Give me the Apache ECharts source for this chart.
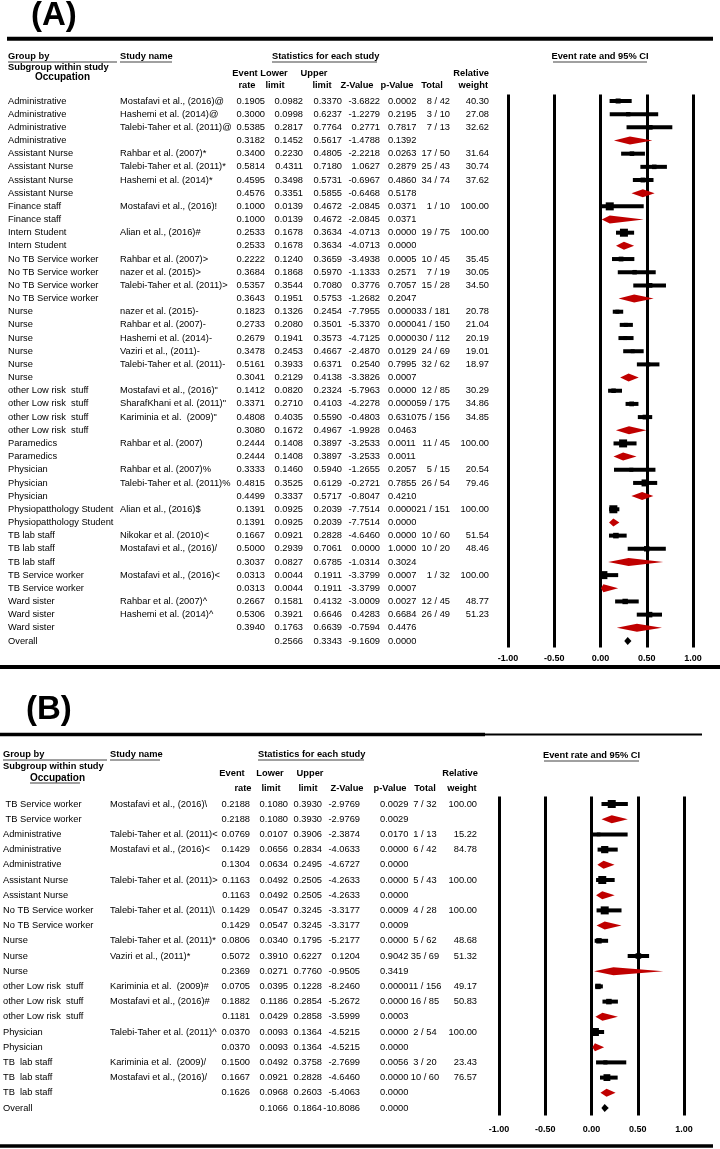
<!DOCTYPE html>
<html><head><meta charset="utf-8">
<script src="https://cdn.jsdelivr.net/npm/echarts@6/dist/echarts.min.js"></script>
<style>html,body{margin:0;padding:0;background:#fff}#c{width:720px;height:1149px}</style>
</head><body><div id="c"></div>
<script>
// ---------------- Panel A data ----------------
const aOccupation = ['Administrative','Administrative','Administrative','Administrative',
 'Assistant Nurse','Assistant Nurse','Assistant Nurse','Assistant Nurse',
 'Finance staff','Finance staff','Intern Student','Intern Student',
 'No TB Service worker','No TB Service worker','No TB Service worker','No TB Service worker',
 'Nurse','Nurse','Nurse','Nurse','Nurse','Nurse',
 'other Low risk  stuff','other Low risk  stuff','other Low risk  stuff','other Low risk  stuff',
 'Paramedics','Paramedics','Physician','Physician','Physician',
 'Physiopatthology Student','Physiopatthology Student',
 'TB lab staff','TB lab staff','TB lab staff','TB Service worker','TB Service worker',
 'Ward sister','Ward sister','Ward sister','Overall'];
const aStudy = ['Mostafavi et al., (2016)@','Hashemi et al. (2014)@','Talebi-Taher et al. (2011)@','',
 'Rahbar et al. (2007)*','Talebi-Taher et al. (2011)*','Hashemi et al. (2014)*','',
 'Mostafavi et al., (2016)!','','Alian et al., (2016)#','',
 'Rahbar et al. (2007)>','nazer et al. (2015)>','Talebi-Taher et al. (2011)>','',
 'nazer et al. (2015)-','Rahbar et al. (2007)-','Hashemi et al. (2014)-','Vaziri et al., (2011)-','Talebi-Taher et al. (2011)-','',
 'Mostafavi et al., (2016)"','SharafKhani et al. (2011)"','Kariminia et al.  (2009)"','',
 'Rahbar et al. (2007)','','Rahbar et al. (2007)%','Talebi-Taher et al. (2011)%','',
 'Alian et al., (2016)$','',
 'Nikokar et al. (2010)<','Mostafavi et al., (2016)/','','Mostafavi et al., (2016)<','',
 'Rahbar et al. (2007)^','Hashemi et al. (2014)^','',''];
const aRate = [0.1905,0.3000,0.5385,0.3182, 0.3400,0.5814,0.4595,0.4576, 0.1000,0.1000, 0.2533,0.2533,
 0.2222,0.3684,0.5357,0.3643, 0.1823,0.2733,0.2679,0.3478,0.5161,0.3041, 0.1412,0.3371,0.4808,0.3080,
 0.2444,0.2444, 0.3333,0.4815,0.4499, 0.1391,0.1391, 0.1667,0.5000,0.3037, 0.0313,0.0313,
 0.2667,0.5306,0.3940, 0.2938];
const aLower = [0.0982,0.0998,0.2817,0.1452, 0.2230,0.4311,0.3498,0.3351, 0.0139,0.0139, 0.1678,0.1678,
 0.1240,0.1868,0.3544,0.1951, 0.1326,0.2080,0.1941,0.2453,0.3933,0.2129, 0.0820,0.2710,0.4035,0.1672,
 0.1408,0.1408, 0.1460,0.3525,0.3337, 0.0925,0.0925, 0.0921,0.2939,0.0827, 0.0044,0.0044,
 0.1581,0.3921,0.1763, 0.2566];
const aUpper = [0.3370,0.6237,0.7764,0.5617, 0.4805,0.7180,0.5731,0.5855, 0.4672,0.4672, 0.3634,0.3634,
 0.3659,0.5970,0.7080,0.5753, 0.2454,0.3501,0.3573,0.4667,0.6371,0.4138, 0.2324,0.4103,0.5590,0.4967,
 0.3897,0.3897, 0.5940,0.6129,0.5717, 0.2039,0.2039, 0.2828,0.7061,0.6785, 0.1911,0.1911,
 0.4132,0.6646,0.6639, 0.3343];
const aZ = [-3.6822,-1.2279,0.2771,-1.4788, -2.2218,1.0627,-0.6967,-0.6468, -2.0845,-2.0845, -4.0713,-4.0713,
 -3.4938,-1.1333,0.3776,-1.2682, -7.7955,-5.3370,-4.7125,-2.4870,0.2540,-3.3826, -5.7963,-4.2278,-0.4803,-1.9928,
 -3.2533,-3.2533, -1.2655,-0.2721,-0.8047, -7.7514,-7.7514, -4.6460,0.0000,-1.0314, -3.3799,-3.3799,
 -3.0009,0.4283,-0.7594, -9.1609];
const aP = [0.0002,0.2195,0.7817,0.1392, 0.0263,0.2879,0.4860,0.5178, 0.0371,0.0371, 0.0000,0.0000,
 0.0005,0.2571,0.7057,0.2047, 0.0000,0.0000,0.0000,0.0129,0.7995,0.0007, 0.0000,0.0000,0.6310,0.0463,
 0.0011,0.0011, 0.2057,0.7855,0.4210, 0.0000,0.0000, 0.0000,1.0000,0.3024, 0.0007,0.0007,
 0.0027,0.6684,0.4476, 0.0000];
const aTotal = ['8 / 42','3 / 10','7 / 13','', '17 / 50','25 / 43','34 / 74','', '1 / 10','', '19 / 75','',
 '10 / 45','7 / 19','15 / 28','', '33 / 181','41 / 150','30 / 112','24 / 69','32 / 62','',
 '12 / 85','59 / 175','75 / 156','', '11 / 45','', '5 / 15','26 / 54','', '21 / 151','',
 '10 / 60','10 / 20','', '1 / 32','', '12 / 45','26 / 49','', ''];
const aWeight = [40.30,27.08,32.62,null, 31.64,30.74,37.62,null, 100.00,null, 100.00,null,
 35.45,30.05,34.50,null, 20.78,21.04,20.19,19.01,18.97,null, 30.29,34.86,34.85,null,
 100.00,null, 20.54,79.46,null, 100.00,null, 51.54,48.46,null, 100.00,null, 48.77,51.23,null, null];

// ---------------- Panel B data ----------------
const bOccupation = [' TB Service worker',' TB Service worker','Administrative','Administrative','Administrative',
 'Assistant Nurse','Assistant Nurse','No TB Service worker','No TB Service worker','Nurse','Nurse','Nurse',
 'other Low risk  stuff','other Low risk  stuff','other Low risk  stuff','Physician','Physician',
 'TB  lab staff','TB  lab staff','TB  lab staff','Overall'];
const bStudy = ['Mostafavi et al., (2016)\\','','Talebi-Taher et al. (2011)<','Mostafavi et al., (2016)<','',
 'Talebi-Taher et al. (2011)>','','Talebi-Taher et al. (2011)\\','','Talebi-Taher et al. (2011)*','Vaziri et al., (2011)*','',
 'Kariminia et al.  (2009)#','Mostafavi et al., (2016)#','','Talebi-Taher et al. (2011)^','',
 'Kariminia et al.  (2009)/','Mostafavi et al., (2016)/','',''];
const bRate = [0.2188,0.2188,0.0769,0.1429,0.1304,0.1163,0.1163,0.1429,0.1429,0.0806,0.5072,0.2369,
 0.0705,0.1882,0.1181,0.0370,0.0370,0.1500,0.1667,0.1626,0.1421];
const bLower = [0.1080,0.1080,0.0107,0.0656,0.0634,0.0492,0.0492,0.0547,0.0547,0.0340,0.3910,0.0271,
 0.0395,0.1186,0.0429,0.0093,0.0093,0.0492,0.0921,0.0968,0.1066];
const bUpper = [0.3930,0.3930,0.3906,0.2834,0.2495,0.2505,0.2505,0.3245,0.3245,0.1795,0.6227,0.7760,
 0.1228,0.2854,0.2858,0.1364,0.1364,0.3758,0.2828,0.2603,0.1864];
const bZ = [-2.9769,-2.9769,-2.3874,-4.0633,-4.6727,-4.2633,-4.2633,-3.3177,-3.3177,-5.2177,0.1204,-0.9505,
 -8.2460,-5.2672,-3.5999,-4.5215,-4.5215,-2.7699,-4.6460,-5.4063,-10.8086];
const bP = [0.0029,0.0029,0.0170,0.0000,0.0000,0.0000,0.0000,0.0009,0.0009,0.0000,0.9042,0.3419,
 0.0000,0.0000,0.0003,0.0000,0.0000,0.0056,0.0000,0.0000,0.0000];
const bTotal = ['7 / 32','','1 / 13','6 / 42','','5 / 43','','4 / 28','','5 / 62','35 / 69','',
 '11 / 156','16 / 85','','2 / 54','','3 / 20','10 / 60','',''];
const bWeight = [100.00,null,15.22,84.78,null,100.00,null,100.00,null,48.68,51.32,null,
 49.17,50.83,null,100.00,null,23.43,76.57,null,null];

// axis ticks of the CI plot
const ciMin = -1, ciMax = 1, ciStep = 0.5;

// ---------------- rendering ----------------
const FAM = '"Liberation Sans", Arial, sans-serif';
const FONT = '9.3px ' + FAM;
const BFONT = 'bold 9.3px ' + FAM;
const RED = '#c00000';

function kindOf(occ, study) {
  if (occ.trim() === 'Overall') return 'o';
  return study ? 's' : 'g';
}

function makeTable(P, L) {
  return function (params, api) {
    const i = api.value(1);
    const y = api.coord([0, i])[1];
    const k = kindOf(P.occ[i], P.study[i]);
    const cells = [
      [P.occ[i], L.occ, 'left'],
      [P.study[i], L.study, 'left'],
      [k === 'o' ? '' : P.rate[i].toFixed(4), L.rate, 'right'],
      [P.lower[i].toFixed(4), L.lower, 'right'],
      [P.upper[i].toFixed(4), L.upper, 'right'],
      [P.z[i].toFixed(4), L.z, 'right'],
      [P.p[i].toFixed(4), L.p, 'left'],
      [P.total[i], L.total, L.totalAlign],
      [P.weight[i] == null ? '' : P.weight[i].toFixed(2), L.weight, 'right']
    ];
    const children = [];
    cells.forEach(c => {
      if (!c[0]) return;
      children.push({type: 'text', x: api.coord([c[1], i])[0], y: y,
        style: {text: c[0], font: FONT, fill: '#000', align: c[2], textAlign: c[2],
                verticalAlign: 'middle', textVerticalAlign: 'middle'}});
    });
    return {type: 'group', children: children};
  };
}

function makeForest(P) {
  return function (params, api) {
    const i = api.value(1);
    const k = kindOf(P.occ[i], P.study[i]);
    const pL = api.coord([P.lower[i], i]);
    const pU = api.coord([P.upper[i], i]);
    const pM = api.coord([P.rate[i], i]);
    if (k === 's') {
      const s = 3 + 0.05 * P.weight[i];
      return {type: 'group', children: [
        {type: 'line', shape: {x1: pL[0], y1: pL[1], x2: pU[0], y2: pU[1]}, style: {stroke: '#000', lineWidth: 4}},
        {type: 'rect', shape: {x: pM[0] - s / 2, y: pM[1] - s / 2, width: s, height: s}, style: {fill: '#000'}}
      ]};
    }
    const h = 4;
    return {type: 'polygon', shape: {points: [[pL[0], pL[1]], [pM[0], pM[1] - h], [pU[0], pU[1]], [pM[0], pM[1] + h]]},
      style: {fill: k === 'o' ? '#000' : RED}};
  };
}

const A = {occ: aOccupation, study: aStudy, rate: aRate, lower: aLower, upper: aUpper, z: aZ, p: aP, total: aTotal, weight: aWeight};
const B = {occ: bOccupation, study: bStudy, rate: bRate, lower: bLower, upper: bUpper, z: bZ, p: bP, total: bTotal, weight: bWeight};
const layA = {occ: 8, study: 120, rate: 265, lower: 303, upper: 342, z: 380, p: 388, total: 450, totalAlign: 'right', weight: 489};
const layB = {occ: 3, study: 110, rate: 250, lower: 288, upper: 322, z: 360, p: 380, total: 425, totalAlign: 'center', weight: 477};

const rowA = 13.17, rowB = 15.2;
const topA = 101 - rowA / 2, topB = 804 - rowB / 2;
const hA = rowA * aOccupation.length, hB = rowB * bOccupation.length;

function txt(text, x, y, align, font) {
  align = align || 'left';
  return {type: 'text', x: x, y: y, silent: true,
    style: {text: text, font: font || BFONT, fill: '#000', align: align, textAlign: align,
            verticalAlign: 'middle', textVerticalAlign: 'middle'}};
}
function ln(x1, y1, x2, y2, w, c) {
  return {type: 'line', silent: true, shape: {x1: x1, y1: y1, x2: x2, y2: y2}, style: {stroke: c || '#000', lineWidth: w}};
}
const UL = '#808080';
const BIG = 'bold 33px ' + FAM;

const graphics = [
  // panel labels
  txt('(A)', 31, 16, 'left', BIG),
  txt('(B)', 26, 710, 'left', BIG),
  // rules
  ln(7, 38.7, 713, 38.7, 4), ln(0, 667, 720, 667, 4),
  ln(0, 734.5, 485, 734.5, 3.5), ln(485, 734.5, 702, 734.5, 2),
  ln(0, 1146, 713, 1146, 3.5),
  // panel A header
  txt('Group by', 8, 56), txt('Subgroup within study', 8, 67), txt('Occupation', 35, 77, 'left', 'bold 10px ' + FAM),
  txt('Study name', 120, 56), txt('Statistics for each study', 272, 56),
  txt('Event', 245, 73, 'center'), txt('rate', 247, 85, 'center'),
  txt('Lower', 274, 73, 'center'), txt('limit', 275, 85, 'center'),
  txt('Upper', 314, 73, 'center'), txt('limit', 322, 85, 'center'),
  txt('Z-Value', 357, 85, 'center'), txt('p-Value', 397, 85, 'center'), txt('Total', 432, 85, 'center'),
  txt('Relative', 489, 73, 'right'), txt('weight', 488, 85, 'right'),
  txt('Event rate and 95% CI', 600, 56, 'center'),
  ln(8, 62, 117, 62, 1.5, UL), ln(120, 62, 172, 62, 1.5, UL), ln(272, 62, 377, 62, 1.5, UL), ln(553, 62, 647, 62, 1.5, UL),
  // panel B header
  txt('Group by', 3, 754), txt('Subgroup within study', 3, 766), txt('Occupation', 30, 778, 'left', 'bold 10px ' + FAM),
  txt('Study name', 110, 754), txt('Statistics for each study', 258, 754),
  txt('Event', 232, 773, 'center'), txt('rate', 243, 788, 'center'),
  txt('Lower', 270, 773, 'center'), txt('limit', 271, 788, 'center'),
  txt('Upper', 310, 773, 'center'), txt('limit', 308, 788, 'center'),
  txt('Z-Value', 347, 788, 'center'), txt('p-Value', 390, 788, 'center'), txt('Total', 425, 788, 'center'),
  txt('Relative', 460, 773, 'center'), txt('weight', 462, 788, 'center'),
  txt('Event rate and 95% CI', 591.5, 755, 'center'),
  ln(3, 760, 107, 760, 1.5, UL), ln(110, 760, 160, 760, 1.5, UL), ln(258, 760, 364, 760, 1.5, UL),
  ln(30, 783, 80, 783, 1.5, UL), ln(544, 761, 639, 761, 1.5, UL)
];

function ciAxis(gridIndex, margin) {
  return {gridIndex: gridIndex, type: 'value', min: ciMin, max: ciMax, interval: ciStep,
    axisLine: {show: false}, axisTick: {show: false},
    splitLine: {show: true, lineStyle: {color: '#000', width: 3}},
    axisLabel: {show: true, margin: margin, color: '#000', fontWeight: 'bold', fontSize: 9, fontFamily: FAM,
      formatter: v => v.toFixed(2)}};
}
function rowAxis(gridIndex, n) {
  return {gridIndex: gridIndex, type: 'category', inverse: true, show: false,
    data: Array.from({length: n}, (_, i) => String(i))};
}

const chart = echarts.init(document.getElementById('c'), null, {renderer: 'canvas'});
chart.setOption({
  backgroundColor: '#fff',
  animation: false,
  grid: [
    {left: 0, width: 720, top: topA, height: hA, outerBoundsMode: 'none'},
    {left: 508, width: 185, top: topA, height: hA, outerBoundsMode: 'none'},
    {left: 0, width: 720, top: topB, height: hB, outerBoundsMode: 'none'},
    {left: 499, width: 185, top: topB, height: hB, outerBoundsMode: 'none'}
  ],
  xAxis: [
    {gridIndex: 0, type: 'value', min: 0, max: 720, show: false, splitLine: {show: false}},
    ciAxis(1, 6),
    {gridIndex: 2, type: 'value', min: 0, max: 720, show: false, splitLine: {show: false}},
    ciAxis(3, 9)
  ],
  yAxis: [rowAxis(0, aOccupation.length), rowAxis(1, aOccupation.length), rowAxis(2, bOccupation.length), rowAxis(3, bOccupation.length)],
  series: [
    {type: 'custom', xAxisIndex: 0, yAxisIndex: 0, silent: true, clip: false,
      data: aOccupation.map((_, i) => [0, i]), renderItem: makeTable(A, layA)},
    {type: 'custom', xAxisIndex: 1, yAxisIndex: 1, silent: true, clip: false,
      data: aRate.map((r, i) => [r, i]), renderItem: makeForest(A)},
    {type: 'custom', xAxisIndex: 2, yAxisIndex: 2, silent: true, clip: false,
      data: bOccupation.map((_, i) => [0, i]), renderItem: makeTable(B, layB)},
    {type: 'custom', xAxisIndex: 3, yAxisIndex: 3, silent: true, clip: false,
      data: bRate.map((r, i) => [r, i]), renderItem: makeForest(B)}
  ],
  graphic: graphics
});
</script></body></html>
